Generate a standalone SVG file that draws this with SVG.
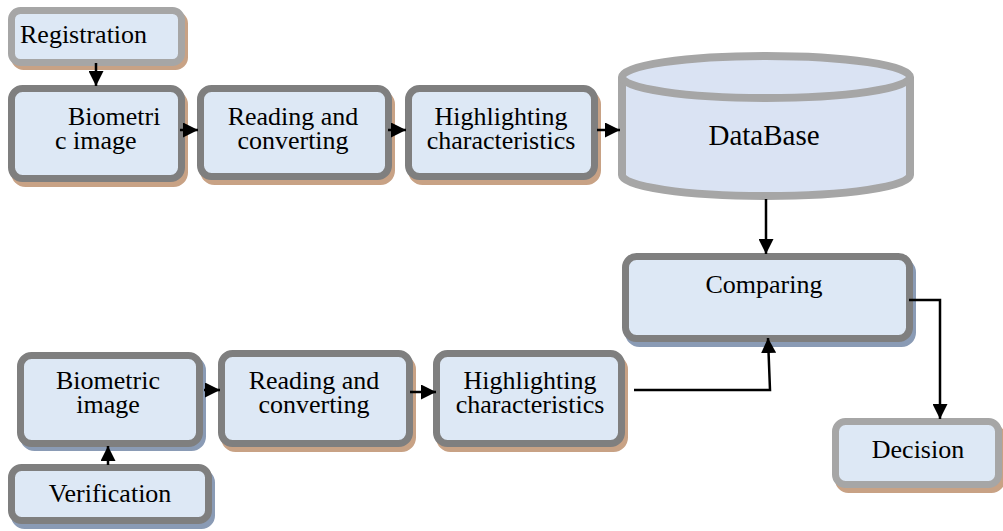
<svg xmlns="http://www.w3.org/2000/svg" width="1003" height="531" viewBox="0 0 1003 531">
<defs>
<style>
.box{fill:#dde8f5;stroke-width:7}
.dk{stroke:#7f7f7f}
.lt{stroke:#a6a6a6}
.shT{fill:#c8a285;stroke:#c8a285;stroke-width:7}
.shB{fill:#8a9bb5;stroke:#8a9bb5;stroke-width:7}
.c{text-anchor:middle}
.ln{fill:none;stroke:#000;stroke-width:2.5}
.t{font-family:"Liberation Serif",Tinos,"Times New Roman","DejaVu Serif",serif;font-size:26px;fill:#000}
</style>
<marker id="ah" viewBox="0 0 12 12" refX="12" refY="6" markerWidth="15" markerHeight="15" markerUnits="userSpaceOnUse" orient="auto">
<path d="M0,0 L12,6 L0,12 z" fill="#000"/>
</marker>
</defs>
<g id="registration">
<rect class="shT" x="14.5" y="14.5" width="170" height="52" rx="9"/>
<rect class="box lt" x="11.5" y="10.5" width="170" height="52" rx="9"/>
<text class="t" x="20" y="43">Registration</text>
</g>
<g id="bio-top">
<rect class="shT" x="14.5" y="93.5" width="170" height="90" rx="11"/>
<rect class="box dk" x="11.5" y="88.5" width="170" height="90" rx="11"/>
<text class="t" x="68" y="125">Biometri</text>
<text class="t" x="55" y="149">c image</text>
</g>
<g id="read-top">
<rect class="shT" x="203.5" y="93.5" width="188" height="88" rx="11"/>
<rect class="box dk" x="200.5" y="88.5" width="188" height="88" rx="11"/>
<text class="t c" x="293" y="125">Reading and</text>
<text class="t c" x="293" y="149">converting</text>
</g>
<g id="high-top">
<rect class="shT" x="411.5" y="93.5" width="186" height="88" rx="11"/>
<rect class="box dk" x="408.5" y="88.5" width="186" height="88" rx="11"/>
<text class="t c" x="501" y="125">Highlighting</text>
<text class="t c" x="501" y="149">characteristics</text>
</g>
<g id="database">
<path d="M622,77 L622,175 A144,21 0 0 0 910,175 L910,77" fill="#dae3f3" stroke="#a6a6a6" stroke-width="8"/>
<ellipse cx="766" cy="77" rx="144" ry="21" fill="#dae3f3" stroke="#a6a6a6" stroke-width="8"/>
<text class="t c" x="764" y="145" style="font-size:29px">DataBase</text>
</g>
<g id="comparing">
<rect class="shB" x="628.5" y="261.5" width="284" height="82" rx="11"/>
<rect class="box dk" x="625.5" y="256.5" width="284" height="82" rx="11"/>
<text class="t c" x="764" y="293">Comparing</text>
</g>
<g id="bio-bottom">
<rect class="shB" x="23.5" y="359.5" width="179" height="88" rx="11"/>
<rect class="box dk" x="20.5" y="355.5" width="179" height="88" rx="11"/>
<text class="t c" x="108" y="389">Biometric</text>
<text class="t c" x="108" y="413">image</text>
</g>
<g id="read-bottom">
<rect class="shT" x="224.5" y="358.5" width="188" height="90" rx="11"/>
<rect class="box dk" x="221.5" y="353.5" width="188" height="90" rx="11"/>
<text class="t c" x="314" y="389">Reading and</text>
<text class="t c" x="314" y="413">converting</text>
</g>
<g id="high-bottom">
<rect class="shT" x="439.5" y="358.5" width="185" height="90" rx="11"/>
<rect class="box dk" x="436.5" y="353.5" width="185" height="90" rx="11"/>
<text class="t c" x="530" y="389">Highlighting</text>
<text class="t c" x="530" y="413">characteristics</text>
</g>
<g id="decision">
<rect class="shT" x="838.5" y="426.5" width="163" height="63" rx="10"/>
<rect class="box lt" x="835.5" y="421.5" width="163" height="63" rx="10"/>
<text class="t c" x="918" y="458">Decision</text>
</g>
<g id="verification">
<rect class="shB" x="14.5" y="472.5" width="197" height="53" rx="10"/>
<rect class="box dk" x="11.5" y="467.5" width="197" height="53" rx="10"/>
<text class="t c" x="110" y="502">Verification</text>
</g>
<g id="connectors">
<line class="ln" x1="96" y1="63" x2="96" y2="86" marker-end="url(#ah)"/>
<line class="ln" x1="180" y1="130" x2="198" y2="130" marker-end="url(#ah)"/>
<line class="ln" x1="388" y1="130" x2="406" y2="130" marker-end="url(#ah)"/>
<line class="ln" x1="597" y1="130" x2="620" y2="130" marker-end="url(#ah)"/>
<line class="ln" x1="766" y1="199" x2="766" y2="254" marker-end="url(#ah)"/>
<polyline class="ln" points="634,390 770,390 768,338" marker-end="url(#ah)"/>
<polyline class="ln" points="909,300 940,300 940,419" marker-end="url(#ah)"/>
<line class="ln" x1="204" y1="390" x2="220" y2="390" marker-end="url(#ah)"/>
<line class="ln" x1="410" y1="392" x2="436" y2="392" marker-end="url(#ah)"/>
<line class="ln" x1="108" y1="465" x2="108" y2="446" marker-end="url(#ah)"/>
</g>
</svg>
